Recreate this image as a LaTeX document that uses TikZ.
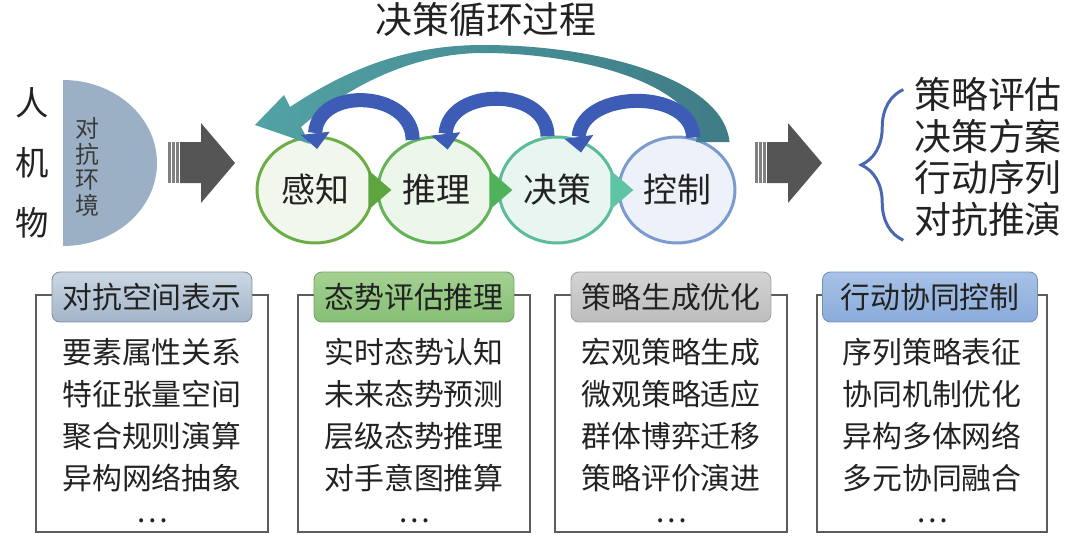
\documentclass[tikz,border=0pt]{standalone}
\usepackage{fontspec}
\setmainfont{Noto Sans CJK SC}
\usetikzlibrary{arrows.meta,bending,shapes.geometric,decorations.pathreplacing}
\definecolor{inkgray}{HTML}{222222}
\definecolor{envblue}{HTML}{9BB0C5}
\definecolor{envtext}{HTML}{3A3A3A}
\definecolor{arrowgray}{HTML}{555555}
\definecolor{ring1}{HTML}{6CAD46}
\definecolor{disc1}{HTML}{F1F7EC}
\definecolor{ring2}{HTML}{62B457}
\definecolor{disc2}{HTML}{EDF6EA}
\definecolor{ring3}{HTML}{5CBB98}
\definecolor{disc3}{HTML}{E9F5F0}
\definecolor{ring4}{HTML}{7B9BD0}
\definecolor{disc4}{HTML}{EDF1F9}
\definecolor{chev1}{HTML}{5DA53E}
\definecolor{chev2}{HTML}{4DB25A}
\definecolor{chev3}{HTML}{5EC4A4}
\definecolor{arcblue}{HTML}{3D5CB5}
\definecolor{tealleft}{HTML}{52A2A4}
\definecolor{tealright}{HTML}{3E7C86}
\definecolor{braceblue}{HTML}{4A67B1}
\definecolor{framegray}{HTML}{5C5C5C}
\definecolor{hd1}{HTML}{A3B5C9}
\definecolor{hd1top}{HTML}{CBD7E3}
\definecolor{hd2}{HTML}{86BF74}
\definecolor{hd2top}{HTML}{A4D193}
\definecolor{hd3}{HTML}{BDBDBD}
\definecolor{hd3top}{HTML}{D3D3D3}
\definecolor{hd4}{HTML}{8AABDA}
\definecolor{hd4top}{HTML}{A8C2E6}
\begin{document}
\begin{tikzpicture}[x=0.02cm, y=0.02cm, text=inkgray]
    \tikzstyle{stage}=[ellipse, line width=1.7pt, minimum width=2.32cm, minimum height=2.12cm, font=\fontsize{19.3}{22}\selectfont]
    \tikzstyle{backarc}=[draw=arcblue, line width=8pt, -{Triangle[width=16pt, length=9pt]}, shorten >=-7pt]
    \tikzstyle{boxframe}=[draw=framegray, line width=1.1pt]
    \tikzstyle{boxhead}=[rounded corners=4.5pt, line width=0.5pt, minimum width=4cm, minimum height=1cm, font=\fontsize{17}{20}\selectfont]
    \tikzstyle{boxitems}=[align=center, inner sep=0pt, font=\fontsize{17}{24}\selectfont]
    \useasboundingbox (0, 0) rectangle (1080, 539);
    \node [font=\fontsize{21}{24}\selectfont] (title) at (486, 519) {决策循环过程};
    % left: entities and environment
    \node [align=center, font=\fontsize{19}{34}\selectfont] (renjiwu) at (32, 376) {人\\机\\物};
    \fill [envblue] (63, 459) arc [start angle=90, end angle=-90, x radius=94, y radius=83] -- cycle;
    \node [align=center, text=envtext, font=\fontsize{13.6}{14.5}\selectfont] (huanjing) at (87, 372) {对\\抗\\环\\境};
    \foreach \s in {168, 755} {
        \foreach \i in {0, 4, 8} \fill [arrowgray!75] (\s+\i, 356) rectangle +(2.5, 41);
        \fill [arrowgray] (\s+12, 356) -- (\s+33, 356) -- (\s+33, 336) -- (\s+67, 376) -- (\s+33, 416) -- (\s+33, 397) -- (\s+12, 397) -- cycle;
    }
    % decision loop
    \node [stage, draw=ring1, fill=disc1] (ganzhi) at (315, 349) {感知};
    \node [stage, draw=ring2, fill=disc2] (tuili) at (436, 349) {推理};
    \node [stage, draw=ring3, fill=disc3] (juece) at (557, 349) {决策};
    \node [stage, draw=ring4, fill=disc4] (kongzhi) at (677, 349) {控制};
    \foreach \a/\c in {ganzhi/chev1, tuili/chev2, juece/chev3}
        \fill [\c] ([xshift=-3.5pt, yshift=11.3pt]\a.east) -- ([xshift=9.6pt]\a.east) -- ([xshift=-3.5pt, yshift=-11.3pt]\a.east) -- cycle;
    % big loop back from control to perception
    \coordinate (looptail) at (712, 397);
    \coordinate (looptip) at (255, 414);
    \shade [left color=tealleft, right color=tealright] ([xshift=10]looptail) .. controls (723, 460) and (600, 494) .. (483, 494)
        .. controls (400, 494) and (340, 465) .. (290, 432) -- (284, 444) -- (looptip) -- (310, 395) -- (301, 412)
        .. controls (345, 450) and (410, 486) .. (483, 486) .. controls (590, 486) and (703, 450) .. ([xshift=-9]looptail) -- cycle;
    \draw [backarc] (tuili.115) .. controls +(0, 50) and +(0, 50) .. (ganzhi.90);
    \draw [backarc] (juece.100) .. controls +(0, 50) and +(0, 50) .. (tuili.80);
    \draw [backarc] (kongzhi.73) .. controls +(0, 50) and +(0, 50) .. (juece.67);
    % outputs
    \node [align=left, inner sep=0pt, font=\fontsize{21}{23.6}\selectfont] (jieguo) at (988, 382) {策略评估\\决策方案\\行动序列\\对抗推演};
    \draw [braceblue, line width=1.7pt, decorate, decoration={brace, amplitude=24pt}] ([xshift=-6pt, yshift=-2pt]jieguo.south west) -- ([xshift=-6pt, yshift=-7pt]jieguo.north west);
    % four boxes
    \draw [boxframe] (36, 7) rectangle (268, 244);
    \node [boxhead, top color=hd1top, bottom color=hd1, draw=hd1!80!black] (biaoshi) at (152, 242) {对抗空间表示};
    \node [boxitems] (biaoshilist) at (152, 104) {要素属性关系\\特征张量空间\\聚合规则演算\\异构网络抽象\\\raisebox{0.33em}{…}};
    \draw [boxframe] (298, 7) rectangle (530, 244);
    \node [boxhead, top color=hd2top, bottom color=hd2, draw=hd2!85!black] (tuisuan) at (414, 242) {态势评估推理};
    \node [boxitems] (tuisuanlist) at (414, 104) {实时态势认知\\未来态势预测\\层级态势推理\\对手意图推算\\\raisebox{0.33em}{…}};
    \draw [boxframe] (555, 7) rectangle (787, 244);
    \node [boxhead, top color=hd3top, bottom color=hd3, draw=hd3!85!black] (youhua) at (671, 242) {策略生成优化};
    \node [boxitems] (youhualist) at (671, 104) {宏观策略生成\\微观策略适应\\群体博弈迁移\\策略评价演进\\\raisebox{0.33em}{…}};
    \draw [boxframe] (817, 7) rectangle (1047, 244);
    \node [boxhead, minimum width=4.3cm, top color=hd4top, bottom color=hd4, draw=hd4!85!black] (xietong) at (930, 242) {行动协同控制};
    \node [boxitems] (xietonglist) at (932, 104) {序列策略表征\\协同机制优化\\异构多体网络\\多元协同融合\\\raisebox{0.33em}{…}};
\end{tikzpicture}
\end{document}
